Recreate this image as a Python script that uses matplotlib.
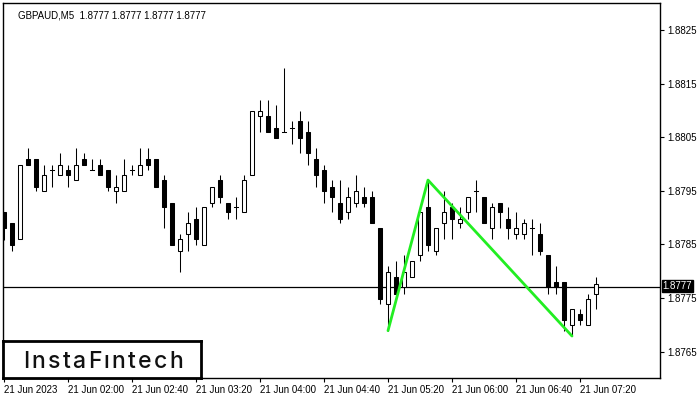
import matplotlib
matplotlib.use("Agg")
import matplotlib.pyplot as plt
from matplotlib.patches import Rectangle
from matplotlib.transforms import blended_transform_factory

# ---------------- data ----------------
symbol_title = "GBPAUD,M5  1.8777 1.8777 1.8777 1.8777"
opens = [1.87910, 1.87889, 1.87860, 1.88009, 1.88009, 1.87949, 1.87989, 1.87979, 1.87989, 1.87970,
         1.88009, 1.87989, 1.87999, 1.87989, 1.87949, 1.87949, 1.87989, 1.87979, 1.88009, 1.88009,
         1.87970, 1.87928, 1.87838, 1.87869, 1.87898, 1.87848, 1.87928, 1.87970, 1.87928, 1.87919,
         1.87910, 1.87979, 1.88089, 1.88089, 1.88068, 1.88059, 1.88068, 1.88080, 1.88059, 1.88009,
         1.87989, 1.87958, 1.87928, 1.87910, 1.87928, 1.87939, 1.87939, 1.87880, 1.87738, 1.87789,
         1.87770, 1.87789, 1.87830, 1.87919, 1.87838, 1.87889, 1.87919, 1.87889, 1.87910, 1.87949,
         1.87939, 1.87880, 1.87928, 1.87898, 1.87869, 1.87869, 1.87880, 1.87869, 1.87830, 1.87779,
         1.87779, 1.87699, 1.87720, 1.87699, 1.87758]
highs = [1.87910, 1.87889, 1.87999, 1.88030, 1.88009, 1.87999, 1.87999, 1.88020, 1.87999, 1.88030,
         1.88020, 1.88009, 1.88009, 1.87989, 1.87979, 1.88009, 1.87999, 1.88030, 1.88030, 1.88009,
         1.87979, 1.87928, 1.87869, 1.87910, 1.87919, 1.87919, 1.87958, 1.87979, 1.87928, 1.87939,
         1.87979, 1.88098, 1.88119, 1.88119, 1.88110, 1.88179, 1.88080, 1.88099, 1.88080, 1.88030,
         1.87999, 1.87970, 1.87970, 1.87958, 1.87979, 1.87958, 1.87949, 1.87880, 1.87810, 1.87819,
         1.87830, 1.87819, 1.87910, 1.87970, 1.87880, 1.87949, 1.87928, 1.87919, 1.87939, 1.87970,
         1.87939, 1.87928, 1.87928, 1.87919, 1.87910, 1.87898, 1.87898, 1.87889, 1.87830, 1.87810,
         1.87779, 1.87729, 1.87729, 1.87758, 1.87789]
lows = [1.87858, 1.87838, 1.87860, 1.87999, 1.87949, 1.87949, 1.87958, 1.87979, 1.87958, 1.87970,
        1.87999, 1.87989, 1.87979, 1.87949, 1.87928, 1.87949, 1.87979, 1.87979, 1.87989, 1.87958,
        1.87880, 1.87848, 1.87799, 1.87838, 1.87848, 1.87848, 1.87919, 1.87928, 1.87898, 1.87898,
        1.87910, 1.87979, 1.88059, 1.88059, 1.88049, 1.88059, 1.88038, 1.88020, 1.87999, 1.87958,
        1.87928, 1.87910, 1.87889, 1.87898, 1.87919, 1.87919, 1.87889, 1.87738, 1.87689, 1.87758,
        1.87758, 1.87789, 1.87819, 1.87838, 1.87830, 1.87860, 1.87860, 1.87880, 1.87898, 1.87910,
        1.87889, 1.87860, 1.87880, 1.87860, 1.87860, 1.87860, 1.87830, 1.87830, 1.87758, 1.87758,
        1.87689, 1.87679, 1.87699, 1.87699, 1.87729]
closes = [1.87880, 1.87848, 1.87999, 1.87999, 1.87958, 1.87979, 1.87989, 1.87999, 1.87979, 1.87999,
          1.87999, 1.87989, 1.87979, 1.87958, 1.87958, 1.87979, 1.87989, 1.87999, 1.87999, 1.87958,
          1.87919, 1.87848, 1.87860, 1.87889, 1.87860, 1.87919, 1.87958, 1.87939, 1.87910, 1.87919,
          1.87970, 1.88098, 1.88098, 1.88059, 1.88049, 1.88059, 1.88068, 1.88049, 1.88020, 1.87979,
          1.87949, 1.87939, 1.87898, 1.87939, 1.87949, 1.87928, 1.87889, 1.87749, 1.87799, 1.87758,
          1.87799, 1.87819, 1.87910, 1.87848, 1.87880, 1.87910, 1.87898, 1.87898, 1.87939, 1.87949,
          1.87889, 1.87919, 1.87910, 1.87880, 1.87880, 1.87889, 1.87880, 1.87838, 1.87770, 1.87770,
          1.87708, 1.87729, 1.87708, 1.87749, 1.87777]
current_price = 1.8777
time_tick_idx = [0, 8, 16, 24, 32, 40, 48, 56, 64, 72]
time_tick_labels = ["21 Jun 2023", "21 Jun 02:00", "21 Jun 02:40", "21 Jun 03:20", "21 Jun 04:00",
                    "21 Jun 04:40", "21 Jun 05:20", "21 Jun 06:00", "21 Jun 06:40", "21 Jun 07:20"]
price_ticks = [1.8765, 1.8775, 1.8785, 1.8795, 1.8805, 1.8815, 1.8825]
# double-top pattern anchor candles (low, high, low)
pattern_idx = [48, 53, 71]
pattern_kind = ["low", "high", "low"]
logo_text = "InstaFıntech"

# ---------------- plot ----------------
W, H = 700, 400
fig = plt.figure(figsize=(7, 4), dpi=100)
fig.patch.set_facecolor("white")
ax = fig.add_axes([2.5 / W, 22 / H, (660 - 2.5) / W, (378 - 3) / H])
ax.set_facecolor("white")

lw = 0.75
bw = 0.55
for i, (o, h, l, c) in enumerate(zip(opens, highs, lows, closes)):
    ax.plot([i, i], [l, h], color="black", lw=lw, solid_capstyle="butt", zorder=2)
    bot, top = min(o, c), max(o, c)
    if top - bot < 1e-6:
        ax.plot([i - bw / 2, i + bw / 2], [o, o], color="black", lw=lw, zorder=3)
    else:
        fc = "black" if c < o else "white"
        ax.add_patch(Rectangle((i - bw / 2, bot), bw, top - bot, facecolor=fc,
                               edgecolor="black", lw=lw, zorder=3))

# current price line
ax.axhline(current_price, color="black", lw=0.9, zorder=1)

# pattern line
px = pattern_idx
py = [lows[k] if kind == "low" else highs[k] for k, kind in zip(pattern_idx, pattern_kind)]
ax.plot(px, py, color="#22ee22", lw=2.0, zorder=5, solid_capstyle="round")

ax.set_xlim(-0.19, 82.0)
ax.set_ylim(1.876007, 1.883004)

for s in ax.spines.values():
    s.set_color("black")
    s.set_linewidth(1.0)

ax.yaxis.tick_right()
ax.set_yticks(price_ticks)
ax.set_yticklabels([f"{p:.4f}" for p in price_ticks])
ax.tick_params(axis="y", direction="out", length=3, width=0.8, pad=2,
               labelsize=7, colors="black")
ax.set_xticks(time_tick_idx)
ax.set_xticklabels(time_tick_labels)
ax.tick_params(axis="x", direction="out", length=3, width=0.8, pad=2,
               labelsize=7, colors="black")
for lab in ax.get_xticklabels():
    lab.set_horizontalalignment("left")
    lab.set_fontfamily("Liberation Sans")
for lab in ax.get_yticklabels():
    lab.set_fontfamily("Liberation Sans")

# title
ax.text(16 / 657.5, 1 - 7 / 375, symbol_title, transform=ax.transAxes, ha="left", va="top",
        fontsize=7, family="Liberation Sans", color="black")

# current price tag
tr = blended_transform_factory(ax.transAxes, ax.transData)
ax.text(1.004, current_price + 0.00002, f"{current_price:.4f}", transform=tr, ha="left",
        va="center", fontsize=7, family="Liberation Sans", color="white", zorder=10,
        clip_on=False,
        bbox=dict(boxstyle="square,pad=0.08", facecolor="black", edgecolor="black"))

# logo
logo_ax = fig.add_axes([3 / W, 22 / H, 198 / W, 37 / H])
logo_ax.set_xticks([])
logo_ax.set_yticks([])
logo_ax.set_facecolor("white")
for s in logo_ax.spines.values():
    s.set_linewidth(2)
    s.set_color("black")

# letter-spaced logo text
renderer = fig.canvas.get_renderer()
spacing_px = 2.3
chars = []
widths = []
for ch in logo_text:
    t = fig.text(0, 0, ch, fontsize=16.5, family="Inter", fontweight="medium",
                 color="#111111", ha="left", va="baseline")
    w = t.get_window_extent(renderer).width if ch.strip() else 6
    chars.append(t)
    widths.append(w)
total = sum(widths) + spacing_px * (len(widths) - 1)
cx = 103.0
x = cx - total / 2
baseline_y = H - 367.5  # pixel row of baseline from top -> from bottom
for t, w in zip(chars, widths):
    t.set_position((x / W, baseline_y / H))
    x += w + spacing_px

fig.savefig("out.png", dpi=100)
